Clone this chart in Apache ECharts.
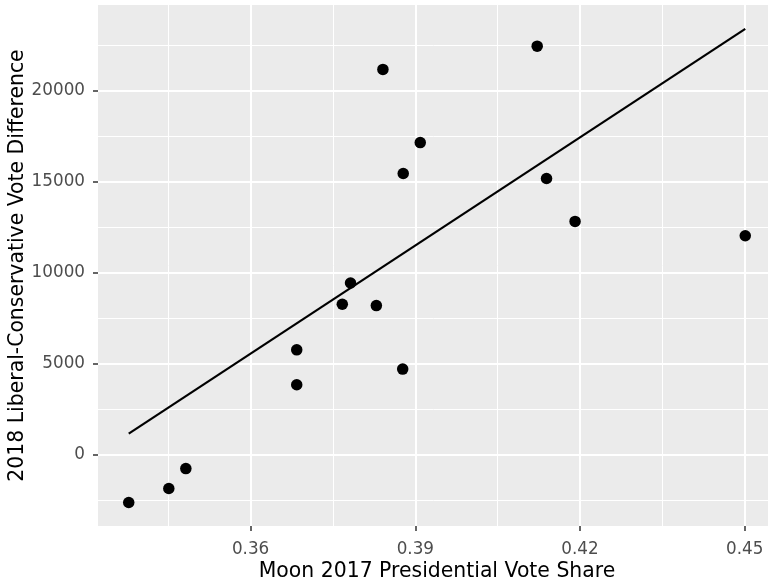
<!DOCTYPE html>
<html>
<head>
<meta charset="UTF-8">
<title>Moon vote share vs vote difference</title>
<script src="https://cdn.jsdelivr.net/npm/echarts@6/dist/echarts.min.js"></script>
<style>
  html, body { margin: 0; padding: 0; background: #fff; }
  #main { width: 768px; height: 585px; }
</style>
</head>
<body>
<div id="main"></div>
<script>
// points
var moonShare = [0.3378, 0.3451, 0.3482, 0.3684, 0.3684, 0.3767, 0.3782, 0.3829,
                 0.3841, 0.3877, 0.3878, 0.3909, 0.4122, 0.4139, 0.4191, 0.4501];
var voteDiff = [-2630, -1863, -767, 5754, 3836, 8258, 9426, 8182,
                21153, 4696, 15437, 17136, 22430, 15163, 12807, 12018];

// fitted line end points
var fitX = [0.3378, 0.4501];
var fitY = [1150, 23380];

// ticks
var xMajor = [0.36, 0.39, 0.42, 0.45];
var xMinor = [0.345, 0.375, 0.405, 0.435];
var yMajor = [0, 5000, 10000, 15000, 20000];
var yMinor = [-2500, 2500, 7500, 12500, 17500, 22500];

var xMin = 0.3322, xMax = 0.4557;
var yMin = -3920, yMax = 24690;

var pts = moonShare.map(function (x, i) { return [x, voteDiff[i]]; });
var fit = fitX.map(function (x, i) { return [x, fitY[i]]; });

var font = 'DejaVu Sans, sans-serif';

var chart = echarts.init(document.getElementById('main'));
chart.setOption({
    animation: false,
    grid: {
        left: 98, right: -8, top: 5, bottom: 59,
        outerBoundsMode: 'none', containLabel: false,
        show: true, backgroundColor: '#EBEBEB', borderWidth: 0
    },
    xAxis: [{
        type: 'value', min: xMin, max: xMax,
        name: 'Moon 2017 Presidential Vote Share',
        nameLocation: 'middle', nameGap: 35.5, nameMoveOverlap: false,
        nameTextStyle: { color: '#000', fontSize: 20.4, fontFamily: font },
        axisLine: { show: false, onZero: false },
        axisTick: { show: true, length: 5, customValues: xMajor, lineStyle: { color: '#333', width: 1.5 } },
        axisLabel: {
            customValues: xMajor, margin: 15, color: '#4D4D4D', fontSize: 16.8, fontFamily: font,
            formatter: function (v) { return v.toFixed(2); }
        },
        splitLine: { show: true, lineStyle: { color: '#fff', width: 2 } }
    }, {
        type: 'value', min: xMin, max: xMax, position: 'bottom',
        axisLine: { show: false, onZero: false },
        axisTick: { show: false, customValues: xMinor },
        axisLabel: { show: false },
        splitLine: { show: true, lineStyle: { color: '#fff', width: 1 } }
    }],
    yAxis: [{
        type: 'value', min: yMin, max: yMax,
        name: '2018 Liberal-Conservative Vote Difference',
        nameLocation: 'middle', nameGap: 70.5, nameMoveOverlap: false,
        nameTextStyle: { color: '#000', fontSize: 20.4, fontFamily: font },
        axisLine: { show: false, onZero: false },
        axisTick: { show: true, length: 5, customValues: yMajor, lineStyle: { color: '#333', width: 1.5 } },
        axisLabel: {
            customValues: yMajor, margin: 13, color: '#4D4D4D', fontSize: 16.8, fontFamily: font,
            formatter: function (v) { return String(v); }
        },
        splitLine: { show: true, lineStyle: { color: '#fff', width: 2 } }
    }, {
        type: 'value', min: yMin, max: yMax, position: 'left',
        axisLine: { show: false, onZero: false },
        axisTick: { show: false, customValues: yMinor },
        axisLabel: { show: false },
        splitLine: { show: true, lineStyle: { color: '#fff', width: 1 } }
    }],
    series: [{
        type: 'line', data: fit, symbol: 'none',
        lineStyle: { color: '#000', width: 2.2 }, z: 3
    }, {
        type: 'scatter', data: pts, symbolSize: 11.5,
        itemStyle: { color: '#000', opacity: 1 }, z: 4
    }]
});
</script>
</body>
</html>
